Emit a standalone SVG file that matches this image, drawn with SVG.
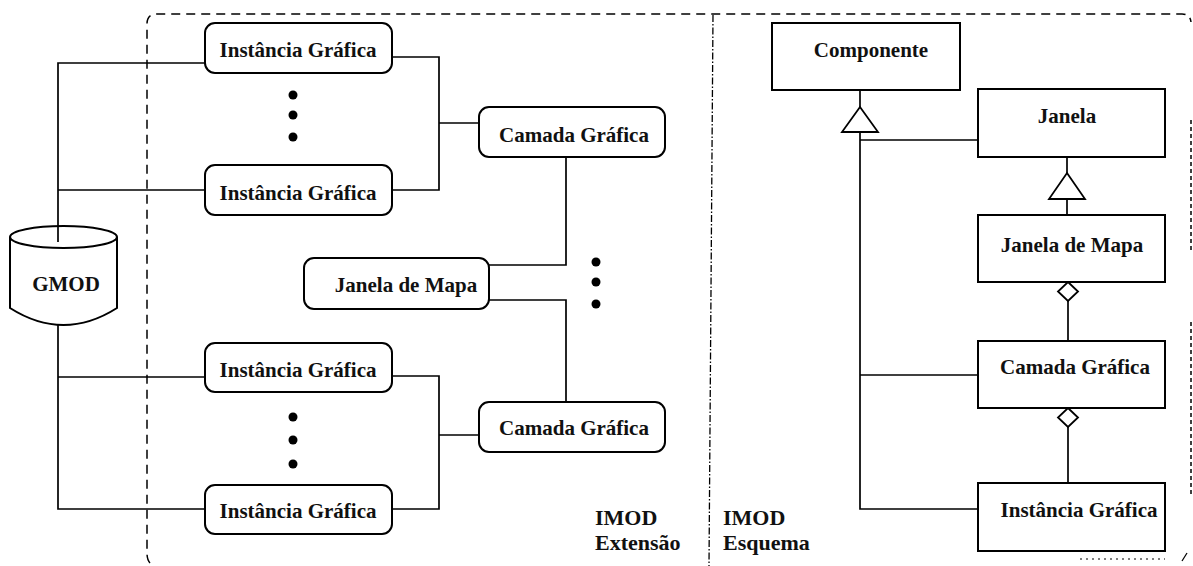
<svg xmlns="http://www.w3.org/2000/svg" width="1193" height="566" viewBox="0 0 1193 566">
  <style>
    .node { fill: #fff; stroke: #000; stroke-width: 2; }
    .wire { fill: none; stroke: #000; stroke-width: 1.7; }
    .head { fill: #fff; stroke: #000; stroke-width: 1.8; stroke-linejoin: miter; }
    .lbl { font-family: "Liberation Serif", "Times New Roman", serif; font-weight: bold; font-size: 21px; fill: #111; text-anchor: middle; }
    .area { font-family: "Liberation Serif", "Times New Roman", serif; font-weight: bold; font-size: 22px; fill: #111; }
    .frame { fill: none; stroke: #000; stroke-width: 1.5; stroke-dasharray: 9 6; }
    .dot { fill: #000; }
  </style>
  <rect width="1193" height="566" fill="#fff"/>

  <!-- IMOD boundary and split between extension and schema -->
  <g id="boundary">
    <path class="frame" d="M150,563 Q147,560 147,553 L147,24 Q147,14 157,14 L1182,14 Q1190,14 1191,22"/>
    <path fill="none" stroke="#000" stroke-width="1.5" stroke-dasharray="4 3" d="M1191,120 V250 M1191,322 V497"/>
    <path fill="none" stroke="#000" stroke-width="1.2" stroke-dasharray="2 4" d="M1080,559 H1165"/>
    <path fill="none" stroke="#000" stroke-width="1.3" d="M1182,561 L1187,553"/>
    <path fill="none" stroke="#000" stroke-width="1.3" stroke-dasharray="7 2 1.5 2" d="M713,15 L709,566"/>
  </g>

  <!-- GMOD store -->
  <g id="gmod">
    <path class="node" d="M10,237 V308 Q63.5,342 117,308 V237"/>
    <ellipse class="node" cx="63.5" cy="237" rx="53.5" ry="11"/>
    <text class="lbl" x="66" y="291">GMOD</text>
  </g>

  <!-- connectors -->
  <g id="connectors">
    <path class="wire" d="M205,63 H58 V242"/>
    <path class="wire" d="M205,190 H58"/>
    <path class="wire" d="M58,325 V509 H205"/>
    <path class="wire" d="M58,377 H205"/>
    <path class="wire" d="M392,57 H439 V190 H392"/>
    <path class="wire" d="M439,123 H479"/>
    <path class="wire" d="M392,376 H439 V509 H392"/>
    <path class="wire" d="M439,435 H479"/>
    <path class="wire" d="M566,157 V265 H489"/>
    <path class="wire" d="M489,300 H566 V402"/>

    <path class="wire" d="M860,90 V107"/>
    <path class="wire" d="M860,132 V509 H978"/>
    <path class="wire" d="M860,140 H978"/>
    <path class="wire" d="M860,375 H978"/>
    <polygon class="head" points="860,107 878,132 842,132"/>
    <path class="wire" d="M1067,157 V173 M1067,199 V215"/>
    <polygon class="head" points="1067,173 1085,199 1049,199"/>
    <path class="wire" d="M1068,301 V341"/>
    <polygon class="head" points="1068,282 1078,291.5 1068,301 1058,291.5"/>
    <path class="wire" d="M1068,427 V483"/>
    <polygon class="head" points="1068,408 1078,417.5 1068,427 1058,417.5"/>
  </g>

  <!-- elision marks -->
  <g id="ellipses">
    <circle class="dot" cx="293" cy="95" r="4.5"/>
    <circle class="dot" cx="293" cy="115" r="4.5"/>
    <circle class="dot" cx="293" cy="137" r="4.5"/>
    <circle class="dot" cx="293" cy="417" r="4.5"/>
    <circle class="dot" cx="293" cy="440" r="4.5"/>
    <circle class="dot" cx="293" cy="464" r="4.5"/>
    <circle class="dot" cx="596" cy="262" r="4.5"/>
    <circle class="dot" cx="596" cy="282" r="4.5"/>
    <circle class="dot" cx="596" cy="304" r="4.5"/>
  </g>

  <!-- extension instances -->
  <g id="ig1"><rect class="node" x="205" y="23" width="187" height="50" rx="10"/><text class="lbl" x="298" y="57">Instância Gráfica</text></g>
  <g id="ig2"><rect class="node" x="205" y="165" width="187" height="50" rx="10"/><text class="lbl" x="298" y="200">Instância Gráfica</text></g>
  <g id="ig3"><rect class="node" x="205" y="343" width="187" height="49" rx="10"/><text class="lbl" x="298" y="377">Instância Gráfica</text></g>
  <g id="ig4"><rect class="node" x="205" y="485" width="187" height="49" rx="10"/><text class="lbl" x="298" y="518">Instância Gráfica</text></g>
  <g id="cg1"><rect class="node" x="479" y="107" width="186" height="50" rx="10"/><text class="lbl" x="574" y="142">Camada Gráfica</text></g>
  <g id="cg2"><rect class="node" x="479" y="402" width="186" height="50" rx="10"/><text class="lbl" x="574" y="435">Camada Gráfica</text></g>
  <g id="jm"><rect class="node" x="304" y="258" width="185" height="51" rx="10"/><text class="lbl" x="406" y="292">Janela de Mapa</text></g>

  <!-- schema classes -->
  <g id="componente"><rect class="node" x="772" y="23" width="188" height="67"/><text class="lbl" x="871" y="57">Componente</text></g>
  <g id="janela"><rect class="node" x="978" y="89" width="187" height="68"/><text class="lbl" x="1067" y="123">Janela</text></g>
  <g id="janela-mapa"><rect class="node" x="978" y="215" width="187" height="67"/><text class="lbl" x="1072" y="252">Janela de Mapa</text></g>
  <g id="camada"><rect class="node" x="978" y="341" width="187" height="67"/><text class="lbl" x="1075" y="374">Camada Gráfica</text></g>
  <g id="instancia"><rect class="node" x="978" y="483" width="187" height="68"/><text class="lbl" x="1079" y="517">Instância Gráfica</text></g>

  <!-- area captions -->
  <g id="captions">
    <text class="area" x="595" y="525">IMOD</text>
    <text class="area" x="595" y="550">Extensão</text>
    <text class="area" x="723" y="525">IMOD</text>
    <text class="area" x="723" y="550">Esquema</text>
  </g>
</svg>
